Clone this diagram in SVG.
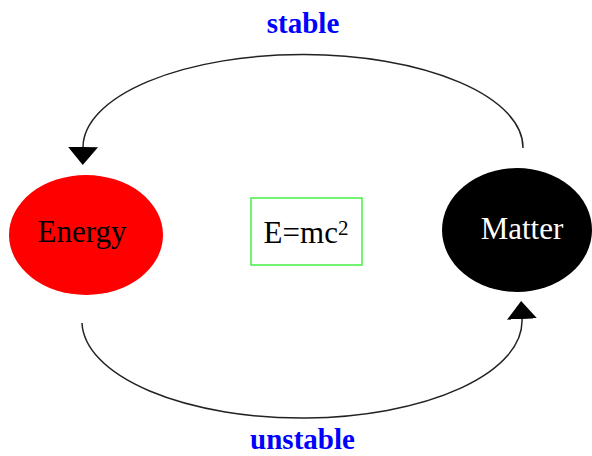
<svg xmlns="http://www.w3.org/2000/svg" width="592" height="456" viewBox="0 0 592 456">
  <style>
    .lbl { font-family: "Liberation Serif", "Times New Roman", serif; font-size: 31px; text-anchor: middle; }
    .edge { font-family: "Liberation Serif", "Times New Roman", serif; font-size: 29px; font-weight: bold; fill: #0000ff; text-anchor: middle; }
    .conn { fill: none; stroke: #222; stroke-width: 1.5; }
  </style>
  <defs>
    <marker id="arrow" viewBox="0 0 18 30" refX="0" refY="15" markerWidth="18" markerHeight="30" markerUnits="userSpaceOnUse" orient="auto">
      <path d="M0,0 L18,15 L0,30 z" fill="#000"/>
    </marker>
  </defs>
  <rect width="592" height="456" fill="#fff"/>
  <g id="connectors">
    <path class="conn" d="M523,148 A220,93 0 0 0 83,147" marker-end="url(#arrow)"/>
    <path class="conn" d="M82,323 A220,97 0 0 0 522,319" marker-end="url(#arrow)"/>
    <text class="edge" x="303" y="33">stable</text>
    <text class="edge" x="302.5" y="449">unstable</text>
  </g>
  <g id="energy">
    <ellipse cx="86" cy="235" rx="77" ry="60" fill="#ff0000"/>
    <text class="lbl" x="82" y="242" fill="#000">Energy</text>
  </g>
  <g id="matter">
    <ellipse cx="517" cy="230" rx="75" ry="62" fill="#000"/>
    <text class="lbl" x="522" y="239" fill="#fff">Matter</text>
  </g>
  <g id="formula">
    <rect x="251" y="198" width="111" height="67" fill="#fff" stroke="#44f044" stroke-width="1.5"/>
    <text class="lbl" x="306" y="243" fill="#000">E=mc<tspan font-size="21" dy="-8">2</tspan></text>
  </g>
</svg>
